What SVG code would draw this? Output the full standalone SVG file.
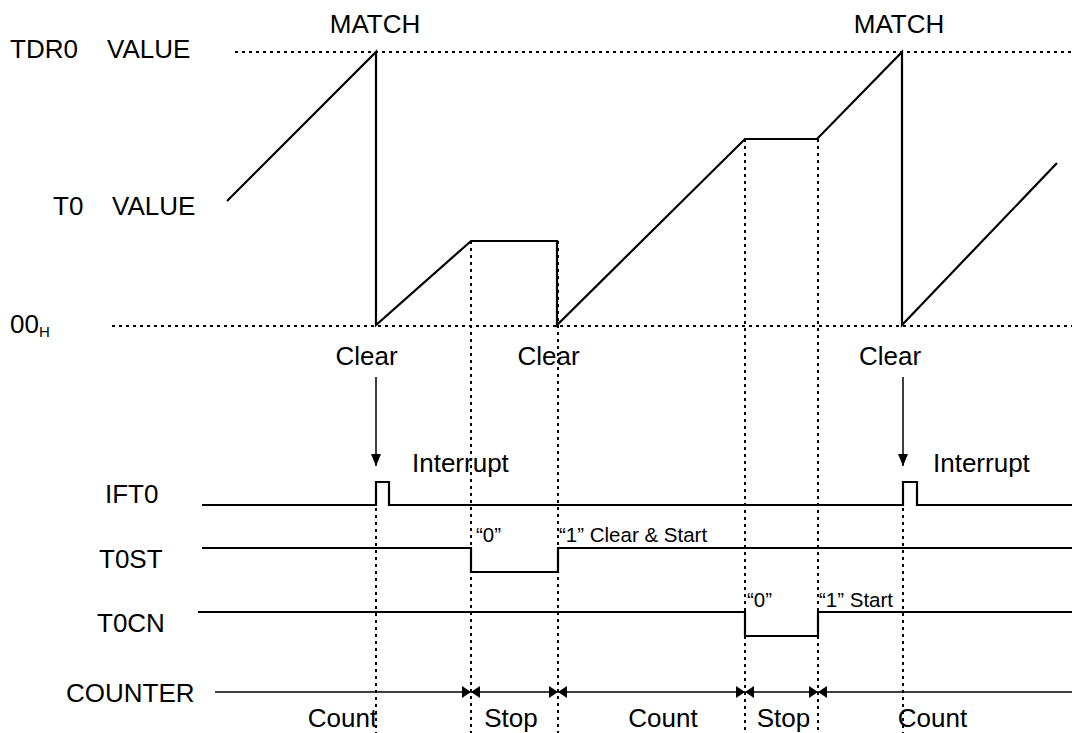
<svg xmlns="http://www.w3.org/2000/svg" width="1072" height="733" viewBox="0 0 1072 733">
<style>
text{font-family:"Liberation Sans",Arial,sans-serif;fill:#000}
.lg{font-size:26px}
.sm{font-size:20.5px}
.w{fill:none;stroke:#000;stroke-width:2.2}
.dot{fill:none;stroke:#000;stroke-width:2;stroke-dasharray:3 4}
.c{fill:none;stroke:#000;stroke-width:1.5}
</style>
<defs>
<marker id="ah" viewBox="0 0 12 10" refX="12" refY="5" markerWidth="12" markerHeight="10" markerUnits="userSpaceOnUse" orient="auto-start-reverse">
<path d="M0,0 L12,5 L0,10 Z" fill="#000"/>
</marker>
<marker id="dh" viewBox="0 0 9 12" refX="9" refY="6" markerWidth="9" markerHeight="12" markerUnits="userSpaceOnUse" orient="auto-start-reverse">
<path d="M0,0 L9,6 L0,12 Z" fill="#000"/>
</marker>
</defs>
<rect width="1072" height="733" fill="#fff"/>
<g id="labels">
<text class="lg" x="10" y="58">TDR0</text><text class="lg" x="107" y="58">VALUE</text>
<text class="lg" x="53" y="215">T0</text><text class="lg" x="112" y="215">VALUE</text>
<text class="lg" x="10" y="333">00<tspan font-size="15" dy="4">H</tspan></text>
<text class="lg" x="375" y="33" text-anchor="middle">MATCH</text>
<text class="lg" x="899" y="33" text-anchor="middle">MATCH</text>
<text class="lg" x="366.5" y="365" text-anchor="middle">Clear</text>
<text class="lg" x="548.5" y="365" text-anchor="middle">Clear</text>
<text class="lg" x="890" y="365" text-anchor="middle">Clear</text>
<text class="lg" x="412" y="472">Interrupt</text>
<text class="lg" x="933" y="472">Interrupt</text>
<text class="lg" x="105" y="503">IFT0</text>
<text class="lg" x="99" y="568">T0ST</text>
<text class="lg" x="97" y="632">T0CN</text>
<text class="lg" x="66" y="702">COUNTER</text>
<text class="sm" x="476" y="542">“0”</text>
<text class="sm" x="559" y="542">“1” Clear &amp; Start</text>
<text class="sm" x="747" y="607">“0”</text>
<text class="sm" x="819" y="607">“1” Start</text>
<text class="lg" x="342.5" y="727" text-anchor="middle">Count</text>
<text class="lg" x="511" y="727" text-anchor="middle">Stop</text>
<text class="lg" x="663" y="727" text-anchor="middle">Count</text>
<text class="lg" x="783.5" y="727" text-anchor="middle">Stop</text>
<text class="lg" x="932.5" y="727" text-anchor="middle">Count</text>
</g>
<g id="guides">
<line class="dot" x1="235" y1="52" x2="1072" y2="52"/>
<line class="dot" x1="112" y1="326" x2="1072" y2="326"/>
<line class="dot" x1="471" y1="241" x2="471" y2="733"/>
<line class="dot" x1="558" y1="241" x2="558" y2="733"/>
<line class="dot" x1="745" y1="139" x2="745" y2="733"/>
<line class="dot" x1="818" y1="139" x2="818" y2="733"/>
<line class="dot" x1="376" y1="508" x2="376" y2="733"/>
<line class="dot" x1="903" y1="508" x2="903" y2="733"/>
</g>
<g id="waveform">
<polyline class="w" points="227,201 376,52 376,325 471,241 557,241 557,325 745,139 817,139 902,52 902,325 1057,163"/>
</g>
<g id="IFT0">
<polyline class="w" points="202,505 376,505 376,482 389,482 389,505 903,505 903,482 917,482 917,505 1072,505"/>
</g>
<g id="T0ST">
<polyline class="w" points="202,548 471,548 471,572 558,572 558,548 1072,548"/>
</g>
<g id="T0CN">
<polyline class="w" points="198,612 745,612 745,636 818,636 818,612 1072,612"/>
</g>
<g id="connectors">
<line class="c" x1="376" y1="377" x2="376" y2="466" marker-end="url(#ah)"/>
<line class="c" x1="903" y1="377" x2="903" y2="466" marker-end="url(#ah)"/>
<line class="c" x1="215" y1="692" x2="471" y2="692" marker-end="url(#dh)"/>
<line class="c" x1="471" y1="692" x2="558" y2="692" marker-start="url(#dh)" marker-end="url(#dh)"/>
<line class="c" x1="558" y1="692" x2="745" y2="692" marker-start="url(#dh)" marker-end="url(#dh)"/>
<line class="c" x1="745" y1="692" x2="818" y2="692" marker-start="url(#dh)" marker-end="url(#dh)"/>
<line class="c" x1="818" y1="692" x2="1072" y2="692" marker-start="url(#dh)"/>
</g>
</svg>
